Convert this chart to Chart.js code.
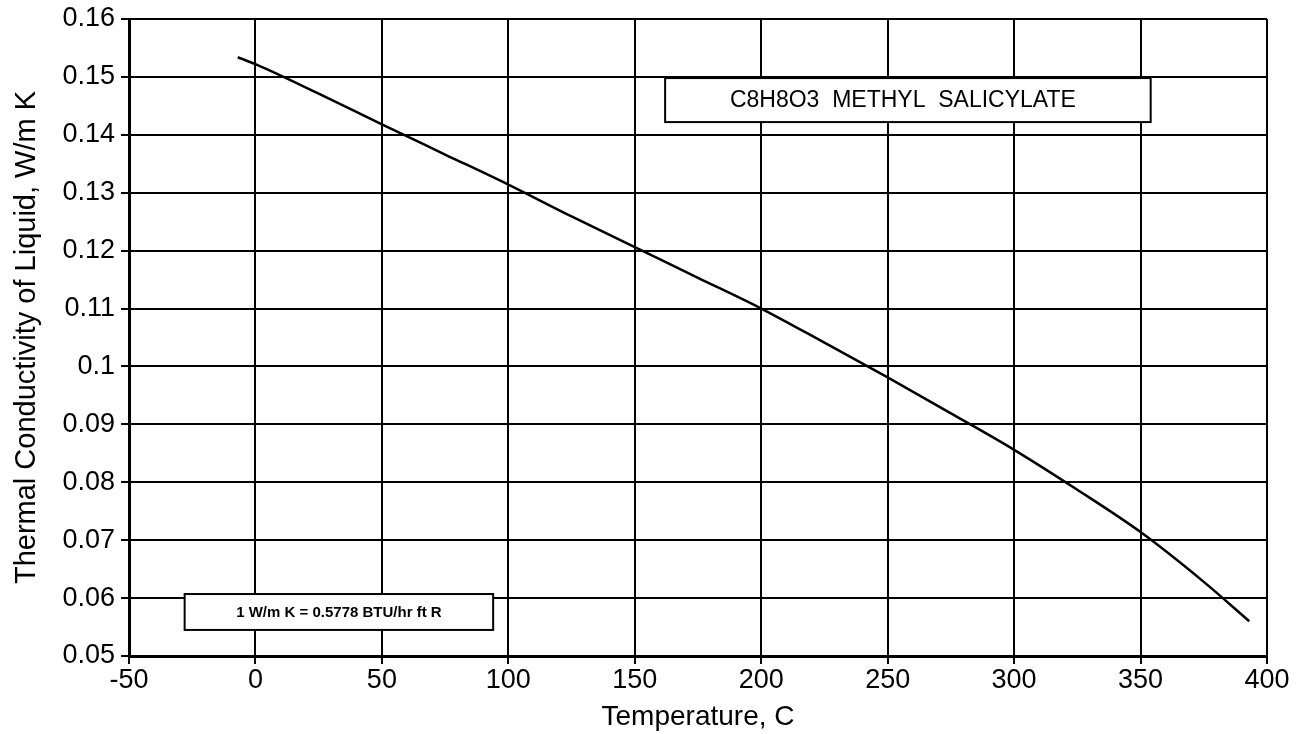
<!DOCTYPE html>
<html>
<head>
<meta charset="utf-8">
<script src="https://cdn.jsdelivr.net/npm/chart.js@4"></script>
<style>
  body { margin: 0; background: #fff; }
</style>
</head>
<body>
<canvas id="myChart" width="1313" height="734"></canvas>
<script>
// Temperature, C
var temps = [-7, 0, 25, 50, 75, 100, 125, 150, 175, 200, 225, 250, 275, 300, 325, 350, 375, 393];
// Thermal conductivity of liquid, W/m K
var conductivity = [0.1534, 0.1522, 0.1471, 0.1418, 0.1366, 0.1314, 0.1259, 0.1206, 0.1153, 0.1100, 0.1041, 0.0981, 0.0919, 0.0856, 0.0787, 0.0714, 0.0628, 0.0560];

// Axis ranges / ticks
var xTicks = [-50, 0, 50, 100, 150, 200, 250, 300, 350, 400];
var yTicks = [0.05, 0.06, 0.07, 0.08, 0.09, 0.10, 0.11, 0.12, 0.13, 0.14, 0.15, 0.16];

// Text boxes inside the plot (placed in data units)
var nameBox = { text: 'C8H8O3  METHYL  SALICYLATE', x0: 162, x1: 354, y0: 0.1498, y1: 0.1422 };
var unitBox = { text: '1 W/m K = 0.5778 BTU/hr ft R', x0: -28, x1: 94, y0: 0.0607, y1: 0.0545 };

var FONT = 'Liberation Sans, Arial, Helvetica, sans-serif';

var ctx = document.getElementById('myChart').getContext('2d');

// draws the two framed labels on top of the grid
const boxPlugin = {
    id: 'boxPlugin',
    afterDatasetsDraw(chart) {
        const c = chart.ctx;
        const xs = chart.scales.x, ys = chart.scales.y;
        [[nameBox, 'normal 23px ' + FONT, -5], [unitBox, 'bold 15px ' + FONT, 0]].forEach(function (b) {
            const box = b[0];
            const l = xs.getPixelForValue(box.x0), r = xs.getPixelForValue(box.x1);
            const t = ys.getPixelForValue(box.y0), btm = ys.getPixelForValue(box.y1);
            c.save();
            c.fillStyle = '#fff';
            c.fillRect(l, t, r - l, btm - t);
            c.strokeStyle = '#000';
            c.lineWidth = 2;
            c.strokeRect(l, t, r - l, btm - t);
            c.fillStyle = '#000';
            c.font = b[1];
            c.textAlign = 'center';
            c.textBaseline = 'middle';
            c.fillText(box.text, (l + r) / 2 + b[2], (t + btm) / 2 + 1);
            c.restore();
        });
    }
};

var myChart = new Chart(ctx, {
    type: 'line',
    data: {
        datasets: [{
            data: temps.map(function (t, i) { return { x: t, y: conductivity[i] }; }),
            borderColor: '#000',
            borderWidth: 2.5,
            pointRadius: 0,
            fill: false,
            cubicInterpolationMode: 'monotone'
        }]
    },
    options: {
        responsive: false,
        animation: false,
        layout: { padding: { left: 10, top: 19, right: 46, bottom: 0 } },
        scales: {
            x: {
                type: 'linear',
                min: xTicks[0],
                max: xTicks[xTicks.length - 1],
                afterBuildTicks: function (axis) {
                    axis.ticks = xTicks.map(function (v) { return { value: v }; });
                },
                afterFit: function (axis) { axis.height = 78; },
                grid: { color: '#000', lineWidth: 2, tickLength: 8, drawTicks: true },
                border: { color: '#000', width: 3 },
                ticks: {
                    color: '#000',
                    padding: 0,
                    maxRotation: 0,
                    font: { family: FONT, size: 27 }
                },
                title: {
                    display: true,
                    text: 'Temperature, C',
                    color: '#000',
                    padding: { top: 0, bottom: 0 },
                    font: { family: FONT, size: 28 }
                }
            },
            y: {
                type: 'linear',
                min: yTicks[0],
                max: yTicks[yTicks.length - 1],
                afterBuildTicks: function (axis) {
                    axis.ticks = yTicks.map(function (v) { return { value: v }; });
                },
                afterFit: function (axis) {
                    axis.width = 119;
                    axis.paddingTop = 0;
                    axis.paddingBottom = 0;
                },
                grid: { color: '#000', lineWidth: 2, tickLength: 8 },
                border: { color: '#000', width: 3 },
                ticks: {
                    color: '#000',
                    padding: 6,
                    font: { family: FONT, size: 27 },
                    callback: function (v) { return String(parseFloat(Number(v).toFixed(2))); }
                },
                title: {
                    display: true,
                    text: 'Thermal Conductivity of Liquid, W/m K',
                    color: '#000',
                    padding: { top: 0, bottom: 0 },
                    font: { family: FONT, size: 29 }
                }
            }
        },
        plugins: {
            legend: { display: false },
            tooltip: { enabled: false }
        }
    },
    plugins: [boxPlugin]
});
</script>
</body>
</html>
